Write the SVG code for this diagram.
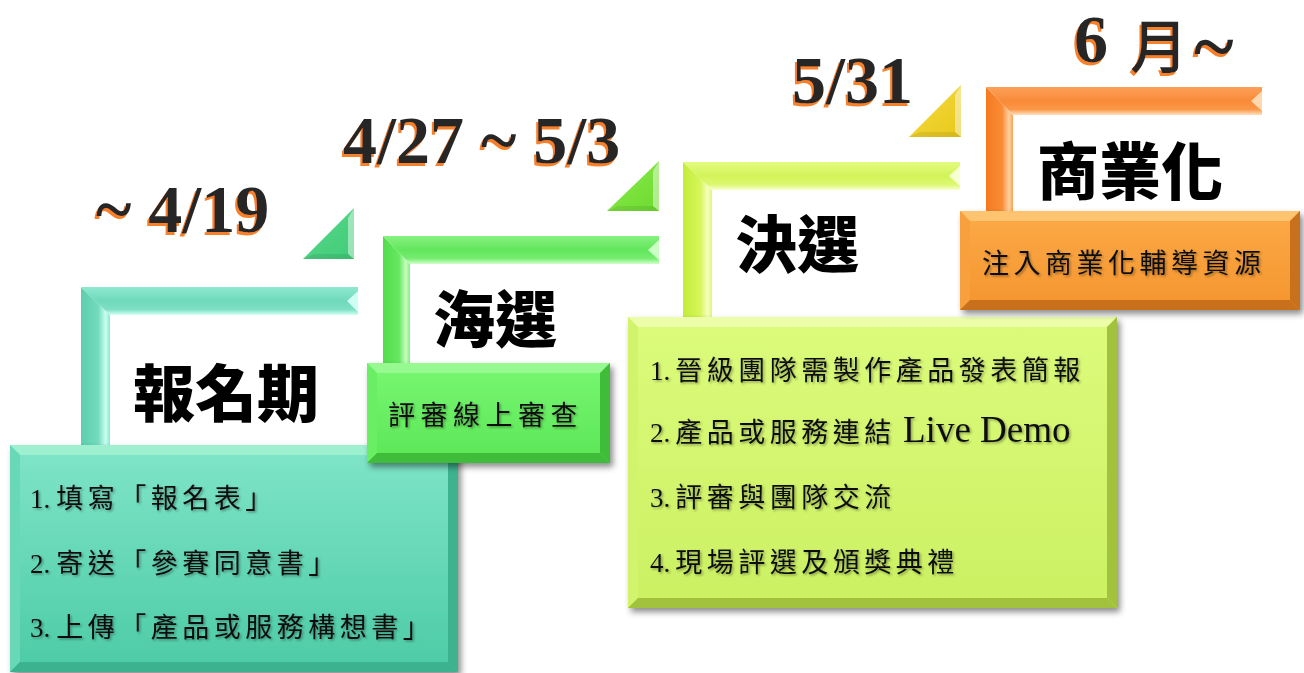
<svg xmlns="http://www.w3.org/2000/svg" width="1304" height="673" viewBox="0 0 1304 673">
<defs>
  <filter id="boxShadow" x="-5%" y="-5%" width="115%" height="120%">
    <feDropShadow dx="3" dy="4" stdDeviation="3" flood-color="#000" flood-opacity="0.45"/>
  </filter>
  <filter id="txtShadow" x="-5%" y="-20%" width="110%" height="150%">
    <feDropShadow dx="1.5" dy="1.5" stdDeviation="1" flood-color="#000" flood-opacity="0.35"/>
  </filter>
  <filter id="dateSh" x="-15%" y="-50%" width="130%" height="200%">
    <feFlood flood-color="#f7802a" result="c"/>
    <feComposite in="c" in2="SourceAlpha" operator="in" result="s"/>
    <feOffset in="s" dx="-2" dy="3" result="o"/>
    <feMerge><feMergeNode in="o"/><feMergeNode in="SourceGraphic"/></feMerge>
  </filter>
  <!-- teal -->
  <linearGradient id="tV" x1="0" y1="0" x2="1" y2="0"><stop offset="0" stop-color="#5ccfae"/><stop offset="0.6" stop-color="#74dbbd"/><stop offset="0.85" stop-color="#c8fff1"/><stop offset="1" stop-color="#8ce8ce"/></linearGradient>
  <linearGradient id="tH" x1="0" y1="0" x2="0" y2="1"><stop offset="0" stop-color="#8ee9d0"/><stop offset="0.5" stop-color="#6fd9ba"/><stop offset="0.8" stop-color="#7ee0c4"/><stop offset="1" stop-color="#d4fff5"/></linearGradient>
  <linearGradient id="tF" x1="0" y1="0" x2="0" y2="1"><stop offset="0" stop-color="#80e5c8"/><stop offset="1" stop-color="#4ccba5"/></linearGradient>
  <!-- green -->
  <linearGradient id="gV" x1="0" y1="0" x2="1" y2="0"><stop offset="0" stop-color="#52dc4c"/><stop offset="0.6" stop-color="#68e862"/><stop offset="0.85" stop-color="#c8ffc2"/><stop offset="1" stop-color="#84f07e"/></linearGradient>
  <linearGradient id="gH" x1="0" y1="0" x2="0" y2="1"><stop offset="0" stop-color="#86f280"/><stop offset="0.5" stop-color="#62e65c"/><stop offset="0.8" stop-color="#76ec70"/><stop offset="1" stop-color="#d2ffcc"/></linearGradient>
  <linearGradient id="gF" x1="0" y1="0" x2="0" y2="1"><stop offset="0" stop-color="#78f772"/><stop offset="1" stop-color="#5ce656"/></linearGradient>
  <!-- yellow-green -->
  <linearGradient id="yV" x1="0" y1="0" x2="1" y2="0"><stop offset="0" stop-color="#c4ec3a"/><stop offset="0.6" stop-color="#d6f65a"/><stop offset="0.85" stop-color="#f6ffc0"/><stop offset="1" stop-color="#def87a"/></linearGradient>
  <linearGradient id="yH" x1="0" y1="0" x2="0" y2="1"><stop offset="0" stop-color="#e2fb80"/><stop offset="0.5" stop-color="#d2f458"/><stop offset="0.8" stop-color="#dcf870"/><stop offset="1" stop-color="#f8ffd0"/></linearGradient>
  <linearGradient id="yF" x1="0" y1="0" x2="0" y2="1"><stop offset="0" stop-color="#dcfb7c"/><stop offset="1" stop-color="#cbf062"/></linearGradient>
  <!-- orange -->
  <linearGradient id="oV" x1="0" y1="0" x2="1" y2="0"><stop offset="0" stop-color="#f47a20"/><stop offset="0.6" stop-color="#fa8c36"/><stop offset="0.85" stop-color="#ffd2a0"/><stop offset="1" stop-color="#fca050"/></linearGradient>
  <linearGradient id="oH" x1="0" y1="0" x2="0" y2="1"><stop offset="0" stop-color="#fca058"/><stop offset="0.5" stop-color="#f98a38"/><stop offset="0.8" stop-color="#fb9848"/><stop offset="1" stop-color="#ffe0c0"/></linearGradient>
  <linearGradient id="oF" x1="0" y1="0" x2="0" y2="1"><stop offset="0" stop-color="#fcaa48"/><stop offset="1" stop-color="#f4952e"/></linearGradient>
  <!-- triangles -->
  <linearGradient id="tri1" x1="0" y1="0" x2="1" y2="1"><stop offset="0" stop-color="#5ad88c"/><stop offset="1" stop-color="#40cc78"/></linearGradient>
  <linearGradient id="tri2" x1="0" y1="0" x2="1" y2="1"><stop offset="0" stop-color="#8ee84c"/><stop offset="1" stop-color="#6cdc30"/></linearGradient>
  <linearGradient id="tri3" x1="0" y1="0" x2="1" y2="1"><stop offset="0" stop-color="#f6dc40"/><stop offset="1" stop-color="#e8c81c"/></linearGradient>
  <style>
    .date { font-family: "Liberation Serif", "Noto Sans CJK TC", serif; font-weight: bold; font-size: 68px; fill: #262626; filter: url(#dateSh); }
    .cjkDate { font-family: "Noto Sans CJK TC", sans-serif; font-weight: 500; font-size: 58px; }
    .head { font-family: "Noto Sans CJK TC", sans-serif; font-weight: 900; font-size: 62px; fill: #000; }
    .body { font-family: "Liberation Serif", "Noto Sans CJK TC", serif; font-size: 27px; letter-spacing: 4.5px; fill: #111; filter: url(#txtShadow); }
    .num { letter-spacing: 0; }
    .live { font-family: "Liberation Serif", serif; font-size: 37px; letter-spacing: 0; }
    .capT { fill: #d0fff4; }
    .capG { fill: #ccffc6; }
    .capY { fill: #f8ffd0; }
    .capO { fill: #ffd8b0; }
    .hiT { fill: #9ff0d0; } .loT { fill: #3cb28e; } .sdT { fill: #68d8b6; }
    .hiG { fill: #96fa90; } .loG { fill: #3fbc3a; } .sdG { fill: #6aee64; }
    .hiY { fill: #ecfea8; } .loY { fill: #a2c23c; } .sdY { fill: #d2f46c; }
    .hiO { fill: #fec470; } .loO { fill: #c8701c; } .sdO { fill: #f8a03c; }
    .triHi { fill: #ffffff; fill-opacity: 0.45; }
    .triLo { fill: #000000; fill-opacity: 0.08; }
  </style>
</defs>
<rect width="1304" height="673" fill="#ffffff"/>

<!-- connectors: bevelled step triangles -->
<g id="connectors">
  <g id="tri-1">
    <polygon points="303,259 354,208 354,259" fill="url(#tri1)"/>
    <polygon class="triHi" points="354,208 354,259 348,254 348,218"/>
    <polygon class="triLo" points="303,259 354,259 348,254 314,254"/>
  </g>
  <g id="tri-2">
    <polygon points="607,211 659,161 659,211" fill="url(#tri2)"/>
    <polygon class="triHi" points="659,161 659,211 653,206 653,171"/>
    <polygon class="triLo" points="607,211 659,211 653,206 618,206"/>
  </g>
  <g id="tri-3">
    <polygon points="909,137 961,85 961,137" fill="url(#tri3)"/>
    <polygon class="triHi" points="961,85 961,137 955,132 955,95"/>
    <polygon class="triLo" points="909,137 961,137 955,132 920,132"/>
  </g>
</g>

<!-- Stage 1 -->
<g id="stage1">
  <g id="stage1-bracket">
    <polygon points="81,287 110,315 110,450 81,450" fill="url(#tV)"/>
    <polygon points="81,287 358,287 358,315 110,315" fill="url(#tH)"/>
    <polygon class="capT" points="358,291 347,301 358,312"/>
  </g>
  <text id="stage1-date" class="date" x="96" y="232">~ 4/19</text>
  <text id="stage1-title" class="head" x="133" y="417">報名期</text>
  <g id="stage1-box">
    <g filter="url(#boxShadow)">
      <rect x="10" y="445" width="448" height="227" fill="url(#tF)"/>
      <polygon class="hiT" points="10,445 458,445 448,455 20,455"/>
      <polygon class="sdT" points="10,445 20,455 20,662 10,672"/>
      <polygon class="loT" points="458,445 458,672 448,662 448,455"/>
      <polygon class="loT" points="10,672 20,662 448,662 458,672"/>
    </g>
    <text class="body" x="30" y="508"><tspan class="num">1.</tspan><tspan dx="6">填寫「報名表」</tspan></text>
    <text class="body" x="30" y="573"><tspan class="num">2.</tspan><tspan dx="6">寄送「參賽同意書」</tspan></text>
    <text class="body" x="30" y="637"><tspan class="num">3.</tspan><tspan dx="6">上傳「產品或服務構想書」</tspan></text>
  </g>
</g>

<!-- Stage 2 -->
<g id="stage2">
  <g id="stage2-bracket">
    <polygon points="383,236 410,264 410,370 383,370" fill="url(#gV)"/>
    <polygon points="383,236 659,236 659,264 410,264" fill="url(#gH)"/>
    <polygon class="capG" points="659,240 648,250 659,260"/>
  </g>
  <text id="stage2-date" class="date" x="343" y="163">4/27 ~ 5/3</text>
  <text id="stage2-title" class="head" x="433" y="343">海選</text>
  <g id="stage2-box">
    <g filter="url(#boxShadow)">
      <rect x="367" y="363" width="243" height="100" fill="url(#gF)"/>
      <polygon class="hiG" points="367,363 610,363 600,373 377,373"/>
      <polygon class="sdG" points="367,363 377,373 377,453 367,463"/>
      <polygon class="loG" points="610,363 610,463 600,453 600,373"/>
      <polygon class="loG" points="367,463 377,453 600,453 610,463"/>
    </g>
    <text class="body" x="388" y="425" style="letter-spacing:5.5px">評審線上審查</text>
  </g>
</g>

<!-- Stage 3 -->
<g id="stage3">
  <g id="stage3-bracket">
    <polygon points="683,162 712,190 712,322 683,322" fill="url(#yV)"/>
    <polygon points="683,162 960,162 960,190 712,190" fill="url(#yH)"/>
    <polygon class="capY" points="960,166 949,176 960,186"/>
  </g>
  <text id="stage3-date" class="date" x="792" y="103">5/31</text>
  <text id="stage3-title" class="head" x="735" y="268">決選</text>
  <g id="stage3-box">
    <g filter="url(#boxShadow)">
      <rect x="628" y="317" width="489" height="291" fill="url(#yF)"/>
      <polygon class="hiY" points="628,317 1117,317 1107,327 638,327"/>
      <polygon class="sdY" points="628,317 638,327 638,598 628,608"/>
      <polygon class="loY" points="1117,317 1117,608 1107,598 1107,327"/>
      <polygon class="loY" points="628,608 638,598 1107,598 1117,608"/>
    </g>
    <text class="body" x="650" y="380"><tspan class="num">1.</tspan><tspan dx="5">晉級團隊需製作產品發表簡報</tspan></text>
    <text class="body" x="650" y="442"><tspan class="num">2.</tspan><tspan dx="5">產品或服務連結</tspan><tspan class="live" x="903">Live Demo</tspan></text>
    <text class="body" x="650" y="507"><tspan class="num">3.</tspan><tspan dx="5">評審與團隊交流</tspan></text>
    <text class="body" x="650" y="572"><tspan class="num">4.</tspan><tspan dx="5">現場評選及頒獎典禮</tspan></text>
  </g>
</g>

<!-- Stage 4 -->
<g id="stage4">
  <g id="stage4-bracket">
    <polygon points="986,87 1013,115 1013,215 986,215" fill="url(#oV)"/>
    <polygon points="986,87 1262,87 1262,115 1013,115" fill="url(#oH)"/>
    <polygon class="capO" points="1262,91 1251,101 1262,111"/>
  </g>
  <text id="stage4-date" class="date" x="1074" y="62">6<tspan class="cjkDate" x="1130" y="68">月</tspan><tspan x="1194" y="72" style="font-size:76px">~</tspan></text>
  <text id="stage4-title" class="head" x="1037" y="195">商業化</text>
  <g id="stage4-box">
    <g filter="url(#boxShadow)">
      <rect x="960" y="211" width="340" height="99" fill="url(#oF)"/>
      <polygon class="hiO" points="960,211 1300,211 1290,221 970,221"/>
      <polygon class="sdO" points="960,211 970,221 970,300 960,310"/>
      <polygon class="loO" points="1300,211 1300,310 1290,300 1290,221"/>
      <polygon class="loO" points="960,310 970,300 1290,300 1300,310"/>
    </g>
    <text class="body" x="982" y="273">注入商業化輔導資源</text>
  </g>
</g>
</svg>
